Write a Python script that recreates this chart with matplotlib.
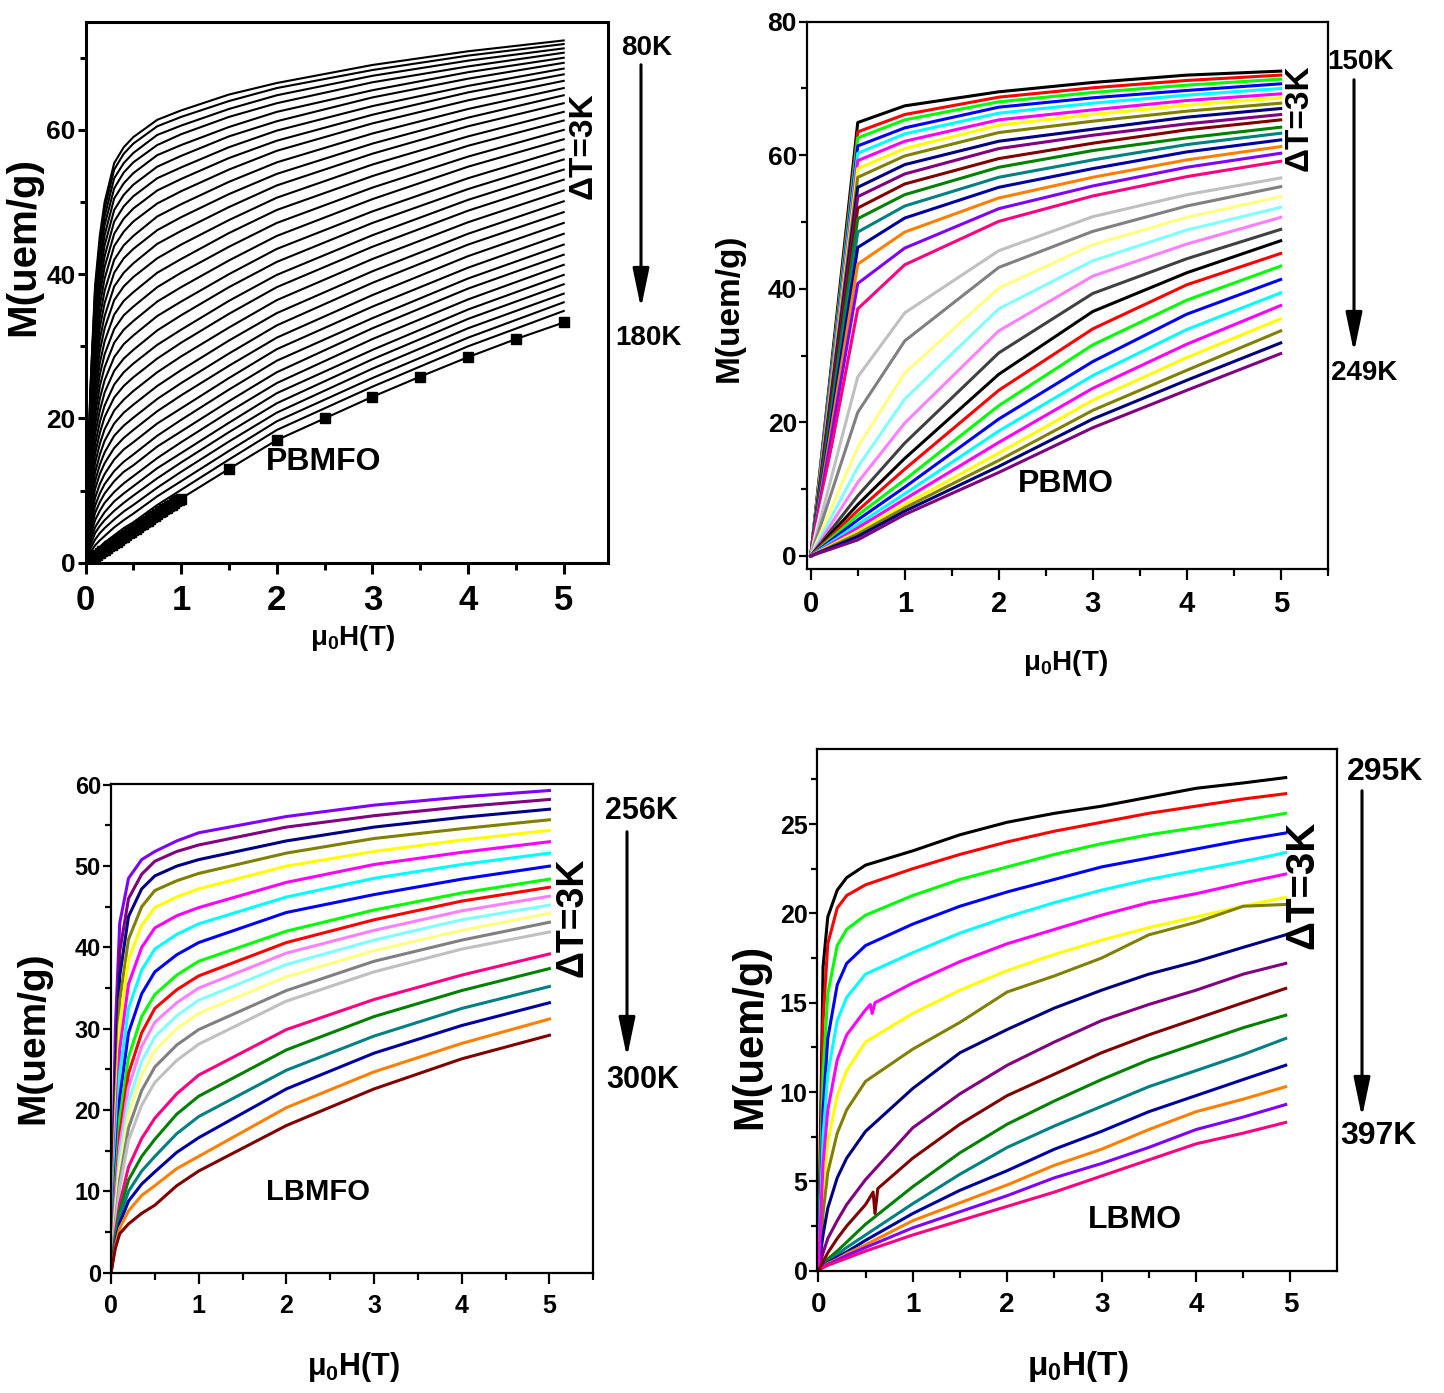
import matplotlib
matplotlib.use('Agg')
import matplotlib.pyplot as plt
from matplotlib.ticker import MultipleLocator
from matplotlib.patches import FancyArrowPatch

plt.rcParams['font.family'] = ['Liberation Sans', 'DejaVu Sans']
plt.rcParams['font.weight'] = 'bold'
plt.rcParams['mathtext.fontset'] = 'custom'
plt.rcParams['mathtext.rm'] = 'Liberation Sans:bold'
plt.rcParams['mathtext.bf'] = 'Liberation Sans:bold'
plt.rcParams['mathtext.it'] = 'Liberation Sans:bold'

# ---------------- data ----------------
# PBMFO (80K -> 180K), black curves, field grid in T
pbmfo_H = [0, 0.05, 0.1, 0.15, 0.2, 0.3, 0.4, 0.5, 0.75, 1, 1.5, 2, 3, 4, 5]
pbmfo_M = [
    [0, 23.9, 38.4, 45.4, 50.0, 55.4, 57.6, 59.0, 61.4, 62.7, 64.9, 66.5, 69.0, 70.9, 72.4],
    [0, 23.5, 37.7, 44.5, 49.1, 54.5, 56.7, 58.1, 60.5, 61.8, 64.0, 65.8, 68.3, 70.3, 71.9],
    [0, 22.9, 36.9, 43.6, 48.0, 53.3, 55.4, 56.8, 59.3, 60.6, 62.9, 64.8, 67.5, 69.6, 71.3],
    [0, 22.3, 35.9, 42.4, 46.8, 51.9, 54.1, 55.5, 57.9, 59.4, 61.8, 63.7, 66.6, 68.8, 70.7],
    [0, 21.7, 34.8, 41.2, 45.4, 50.5, 52.6, 54.0, 56.5, 57.9, 60.4, 62.5, 65.5, 68.0, 70.0],
    [0, 21.0, 33.7, 39.9, 44.0, 48.9, 51.0, 52.4, 54.9, 56.4, 59.1, 61.2, 64.5, 67.1, 69.3],
    [0, 20.2, 32.6, 38.5, 42.5, 47.3, 49.4, 50.8, 53.3, 54.8, 57.6, 59.9, 63.3, 66.1, 68.5],
    [0, 19.5, 31.4, 37.2, 41.0, 45.6, 47.7, 49.1, 51.6, 53.2, 56.1, 58.5, 62.1, 65.2, 67.7],
    [0, 18.7, 30.1, 35.7, 39.4, 43.9, 45.9, 47.3, 49.8, 51.5, 54.5, 57.1, 60.9, 64.1, 66.8],
    [0, 17.9, 28.7, 34.1, 37.7, 42.0, 44.0, 45.3, 48.0, 49.7, 52.8, 55.5, 59.5, 62.9, 65.8],
    [0, 17.0, 27.4, 32.6, 36.0, 40.2, 42.2, 43.5, 46.1, 47.9, 51.1, 53.9, 58.1, 61.7, 64.8],
    [0, 16.2, 26.1, 31.0, 34.2, 38.3, 40.2, 41.5, 44.2, 46.0, 49.3, 52.3, 56.7, 60.5, 63.7],
    [0, 15.3, 24.7, 29.4, 32.5, 36.4, 38.3, 39.6, 42.2, 44.1, 47.5, 50.6, 55.2, 59.1, 62.5],
    [0, 14.4, 23.3, 27.7, 30.7, 34.4, 36.3, 37.5, 40.2, 42.1, 45.7, 48.9, 53.6, 57.8, 61.3],
    [0, 13.6, 21.9, 26.1, 28.9, 32.4, 34.3, 35.5, 38.2, 40.2, 43.8, 47.1, 52.0, 56.3, 60.0],
    [0, 12.7, 20.5, 24.5, 27.1, 30.5, 32.3, 33.5, 36.2, 38.2, 41.9, 45.3, 50.4, 54.9, 58.7],
    [0, 11.8, 19.1, 22.8, 25.3, 28.5, 30.3, 31.5, 34.2, 36.2, 40.0, 43.5, 48.7, 53.3, 57.3],
    [0, 11.0, 17.8, 21.1, 23.6, 26.6, 28.3, 29.5, 32.2, 34.3, 38.2, 41.7, 47.1, 51.8, 55.9],
    [0, 10.1, 16.4, 19.5, 21.8, 24.7, 26.4, 27.6, 30.2, 32.3, 36.3, 39.9, 45.4, 50.3, 54.5],
    [0, 9.3, 15.1, 18.0, 20.2, 22.9, 24.5, 25.7, 28.3, 30.5, 34.5, 38.2, 43.8, 48.8, 53.1],
    [0, 8.5, 13.8, 16.5, 18.5, 21.1, 22.6, 23.8, 26.4, 28.6, 32.6, 36.4, 42.1, 47.2, 51.6],
    [0, 7.7, 12.5, 15.0, 16.9, 19.3, 20.8, 21.9, 24.5, 26.7, 30.8, 34.6, 40.4, 45.6, 50.1],
    [0, 7.0, 11.3, 13.6, 15.3, 17.6, 19.0, 20.1, 22.7, 24.9, 29.0, 32.9, 38.8, 44.1, 48.6],
    [0, 6.2, 10.2, 12.3, 13.8, 15.9, 17.3, 18.4, 21.0, 23.2, 27.3, 31.2, 37.1, 42.5, 47.1],
    [0, 5.5, 9.0, 10.9, 12.3, 14.3, 15.7, 16.7, 19.3, 21.4, 25.6, 29.6, 35.5, 40.9, 45.6],
    [0, 4.8, 7.9, 9.6, 10.9, 12.7, 14.0, 15.0, 17.6, 19.8, 24.0, 28.0, 33.9, 39.4, 44.1],
    [0, 4.2, 6.9, 8.4, 9.6, 11.3, 12.6, 13.5, 16.1, 18.2, 22.4, 26.4, 32.5, 38.0, 42.7],
    [0, 3.6, 5.9, 7.2, 8.3, 9.8, 11.0, 12.0, 14.5, 16.7, 20.9, 24.9, 31.0, 36.5, 41.3],
    [0, 3.0, 4.9, 6.0, 7.0, 8.5, 9.6, 10.6, 13.1, 15.2, 19.4, 23.5, 29.5, 35.1, 39.9],
    [0, 2.4, 4.1, 5.1, 5.9, 7.2, 8.3, 9.3, 11.7, 13.9, 18.1, 22.1, 28.2, 33.8, 38.6],
    [0, 1.9, 3.2, 4.1, 4.8, 6.0, 7.1, 8.0, 10.4, 12.6, 16.8, 20.8, 26.9, 32.5, 37.3],
    [0, 1.4, 2.4, 3.1, 3.7, 4.9, 5.9, 6.8, 9.2, 11.3, 15.5, 19.6, 25.6, 31.2, 36.1],
    [0, 0.9, 1.6, 2.2, 2.8, 3.8, 4.8, 5.6, 8.0, 10.1, 14.3, 18.4, 24.4, 30.0, 34.9],
]
# highest temperature curve, drawn with square symbols
pbmfo_sq_H = [0, 0.025, 0.05, 0.075, 0.1, 0.125, 0.15, 0.175, 0.2, 0.225, 0.25, 0.275,
              0.3, 0.325, 0.35, 0.375, 0.4, 0.425, 0.45, 0.475, 0.5, 0.525, 0.55, 0.575,
              0.6, 0.625, 0.65, 0.675, 0.7, 0.725, 0.75, 0.775, 0.8, 0.825, 0.85, 0.875,
              0.9, 0.925, 0.95, 0.975, 1.0, 1.5, 2.0, 2.5, 3.0, 3.5, 4.0, 4.5, 5.0]
pbmfo_sq_M = [0, 0.23, 0.45, 0.68, 0.9, 1.13, 1.35, 1.58, 1.8, 2.03, 2.25, 2.48,
              2.7, 2.93, 3.15, 3.38, 3.6, 3.83, 4.05, 4.28, 4.5, 4.73, 4.95, 5.18,
              5.4, 5.63, 5.85, 6.08, 6.3, 6.53, 6.75, 6.98, 7.2, 7.4, 7.6, 7.83,
              8.05, 8.28, 8.5, 8.7, 8.9, 13.0, 17.0, 20.0, 23.0, 25.8, 28.5, 31.0, 33.3]

# PBMO (150K -> 249K)
pbmo_H = [0, 0.5, 1, 2, 3, 4, 5]
pbmo_colors = ['#000000', '#FF0000', '#00FF00', '#0000FF', '#00FFFF', '#FF00FF',
               '#FFFF00', '#808000', '#000080', '#800080', '#800000', '#008000',
               '#008080', '#0000A0', '#FF8000', '#8000FF', '#FF0080', '#FFFFFF',
               '#C0C0C0', '#808080', '#FFFF80', '#80FFFF', '#FF80FF', '#404040',
               '#000000', '#FF0000', '#00FF00', '#0000FF', '#00FFFF', '#FF00FF',
               '#FFFF00', '#808000', '#000080', '#800080']
pbmo_M = [
    [0, 64.9, 67.4, 69.5, 70.9, 72.0, 72.6],
    [0, 63.5, 66.1, 68.7, 70.1, 71.2, 72.0],
    [0, 62.6, 65.3, 68.0, 69.4, 70.5, 71.4],
    [0, 61.4, 64.1, 67.2, 68.6, 69.7, 70.7],
    [0, 60.3, 63.2, 66.3, 67.8, 69.0, 70.0],
    [0, 59.2, 62.1, 65.3, 66.8, 68.2, 69.2],
    [0, 58.0, 61.0, 64.5, 66.1, 67.5, 68.6],
    [0, 56.7, 59.9, 63.4, 65.1, 66.6, 67.8],
    [0, 55.2, 58.6, 62.1, 63.9, 65.7, 67.0],
    [0, 53.8, 57.2, 61.0, 63.0, 64.7, 66.1],
    [0, 52.1, 55.7, 59.5, 61.8, 63.8, 65.3],
    [0, 50.5, 54.1, 58.2, 60.7, 62.6, 64.2],
    [0, 48.5, 52.4, 56.7, 59.3, 61.6, 63.3],
    [0, 46.2, 50.6, 55.2, 58.0, 60.5, 62.3],
    [0, 43.7, 48.5, 53.6, 56.7, 59.3, 61.3],
    [0, 40.8, 46.1, 52.0, 55.4, 58.2, 60.3],
    [0, 37.0, 43.6, 50.1, 53.9, 56.8, 59.1],
    [0, 32.0, 40.0, 48.0, 52.4, 55.5, 57.9],
    [0, 26.8, 36.4, 45.7, 50.8, 54.1, 56.6],
    [0, 21.5, 32.2, 43.2, 48.6, 52.4, 55.3],
    [0, 16.3, 27.4, 40.1, 46.6, 50.7, 53.8],
    [0, 13.3, 23.5, 37.0, 44.2, 48.8, 52.2],
    [0, 11.0, 19.9, 33.7, 41.9, 46.7, 50.7],
    [0, 9.0, 16.9, 30.4, 39.3, 44.5, 48.9],
    [0, 7.7, 14.6, 27.2, 36.6, 42.4, 47.2],
    [0, 6.8, 13.0, 24.8, 34.0, 40.6, 45.3],
    [0, 6.1, 11.4, 22.5, 31.6, 38.3, 43.4],
    [0, 5.4, 10.3, 20.5, 29.1, 36.2, 41.4],
    [0, 4.7, 9.3, 18.7, 27.0, 33.9, 39.4],
    [0, 4.2, 8.5, 17.0, 25.1, 31.7, 37.5],
    [0, 3.7, 7.7, 15.4, 23.3, 29.7, 35.5],
    [0, 3.3, 7.2, 14.3, 21.8, 27.8, 33.7],
    [0, 2.9, 6.7, 13.4, 20.5, 26.3, 31.9],
    [0, 2.4, 6.2, 12.5, 19.2, 24.8, 30.3],
]

# LBMFO (256K -> 300K)
lbmfo_H = [0, 0.05, 0.1, 0.2, 0.35, 0.5, 0.75, 1, 2, 3, 4, 5]
lbmfo_colors = ['#8000FF', '#800080', '#000080', '#808000', '#FFFF00', '#FF00FF',
                '#00FFFF', '#0000FF', '#00FF00', '#FF0000', '#FF80FF', '#80FFFF',
                '#FFFF80', '#808080', '#C0C0C0', '#FF0080', '#008000', '#008080',
                '#0000A0', '#FF8000', '#800000']
lbmfo_M = [
    [0, 30.0, 43.0, 48.5, 50.8, 51.8, 53.1, 54.1, 56.1, 57.5, 58.5, 59.3],
    [0, 26.0, 39.5, 46.0, 49.0, 50.6, 51.8, 52.6, 54.8, 56.2, 57.3, 58.2],
    [0, 23.0, 36.5, 43.8, 47.2, 48.8, 50.0, 50.8, 53.1, 54.8, 56.0, 57.0],
    [0, 20.0, 33.5, 41.0, 45.0, 47.0, 48.2, 49.1, 51.6, 53.4, 54.6, 55.7],
    [0, 18.0, 30.5, 38.5, 42.7, 44.9, 46.2, 47.2, 50.0, 51.8, 53.2, 54.4],
    [0, 16.0, 27.5, 35.5, 40.0, 42.4, 43.9, 44.9, 48.0, 50.2, 51.7, 53.0],
    [0, 14.0, 24.5, 32.5, 37.2, 39.8, 41.6, 42.9, 46.2, 48.5, 50.2, 51.6],
    [0, 12.0, 21.5, 29.5, 34.3, 37.0, 39.1, 40.6, 44.3, 46.5, 48.4, 50.0],
    [0, 10.5, 19.0, 26.5, 31.5, 34.2, 36.6, 38.3, 42.0, 44.6, 46.7, 48.4],
    [0, 9.5, 17.0, 24.5, 29.5, 32.5, 34.8, 36.5, 40.6, 43.4, 45.7, 47.4],
    [0, 8.5, 15.5, 22.8, 27.8, 30.8, 33.2, 35.0, 39.3, 42.1, 44.5, 46.3],
    [0, 7.5, 14.0, 21.0, 26.0, 29.0, 31.6, 33.5, 37.9, 40.9, 43.4, 45.2],
    [0, 7.0, 12.8, 19.5, 24.3, 27.3, 30.0, 31.9, 36.4, 39.6, 42.1, 44.2],
    [0, 6.3, 11.5, 17.8, 22.4, 25.3, 28.0, 29.9, 34.7, 38.3, 40.9, 43.1],
    [0, 5.8, 10.5, 16.3, 20.6, 23.4, 26.1, 28.1, 33.4, 37.0, 39.8, 41.9],
    [0, 4.8, 8.5, 13.0, 16.5, 19.0, 22.0, 24.3, 29.9, 33.6, 36.6, 39.2],
    [0, 4.4, 7.6, 11.4, 14.3, 16.4, 19.5, 21.7, 27.4, 31.5, 34.7, 37.4],
    [0, 4.0, 6.9, 10.0, 12.5, 14.3, 17.1, 19.2, 24.9, 29.1, 32.5, 35.2],
    [0, 3.6, 6.1, 8.8, 10.9, 12.4, 14.8, 16.6, 22.6, 27.0, 30.4, 33.2],
    [0, 3.3, 5.5, 7.6, 9.5, 10.7, 12.8, 14.3, 20.3, 24.7, 28.2, 31.2],
    [0, 3.0, 4.8, 6.0, 7.3, 8.3, 10.7, 12.5, 18.1, 22.6, 26.3, 29.2],
]

# LBMO (295K -> 397K)
lbmo_H = [0, 0.05, 0.1, 0.2, 0.3, 0.5, 1, 1.5, 2, 2.5, 3, 3.5, 4, 4.5, 4.95]
lbmo_colors = ['#000000', '#FF0000', '#00FF00', '#0000FF', '#00FFFF', '#FF00FF',
               '#FFFF00', '#808000', '#000080', '#800080', '#800000', '#008000',
               '#008080', '#0000A0', '#FF8000', '#8000FF', '#FF0080']
lbmo_M = [
    [0, 17.0, 19.8, 21.3, 22.0, 22.7, 23.5, 24.4, 25.1, 25.6, 26.0, 26.5, 27.0, 27.3, 27.6],
    [0, 14.0, 18.3, 20.3, 21.0, 21.6, 22.5, 23.3, 24.0, 24.6, 25.1, 25.6, 26.0, 26.4, 26.7],
    [0, 11.0, 15.5, 18.2, 19.1, 19.9, 21.0, 21.9, 22.6, 23.3, 23.9, 24.4, 24.8, 25.2, 25.6],
    [0, 9.0, 13.0, 16.0, 17.2, 18.2, 19.4, 20.4, 21.2, 21.9, 22.6, 23.1, 23.6, 24.1, 24.5],
    [0, 7.5, 11.0, 14.0, 15.3, 16.6, 17.8, 18.9, 19.8, 20.6, 21.3, 21.9, 22.4, 22.9, 23.4],
    None,
    [0, 4.5, 7.2, 9.8, 11.2, 12.8, 14.4, 15.7, 16.8, 17.7, 18.5, 19.2, 19.8, 20.4, 20.9],
    [0, 3.2, 5.5, 7.7, 9.0, 10.6, 12.4, 13.9, 15.6, 16.5, 17.5, 18.8, 19.5, 20.4, 20.5],
    [0, 2.0, 3.5, 5.2, 6.3, 7.8, 10.2, 12.2, 13.5, 14.7, 15.7, 16.6, 17.3, 18.1, 18.8],
    [0, 1.0, 1.8, 2.8, 3.7, 5.1, 8.0, 9.9, 11.5, 12.8, 14.0, 14.9, 15.7, 16.6, 17.2],
    None,
    [0, 0.35, 0.65, 1.1, 1.6, 2.6, 4.7, 6.6, 8.2, 9.5, 10.7, 11.8, 12.7, 13.6, 14.3],
    [0, 0.3, 0.5, 0.9, 1.3, 2.0, 3.75, 5.4, 6.9, 8.1, 9.2, 10.3, 11.2, 12.1, 13.0],
    [0, 0.25, 0.45, 0.75, 1.05, 1.7, 3.2, 4.5, 5.6, 6.8, 7.8, 8.9, 9.8, 10.7, 11.5],
    [0, 0.22, 0.4, 0.65, 0.95, 1.45, 2.8, 3.8, 4.8, 5.9, 6.8, 7.9, 8.9, 9.6, 10.3],
    [0, 0.2, 0.35, 0.6, 0.85, 1.3, 2.4, 3.3, 4.2, 5.2, 6.0, 6.9, 7.9, 8.6, 9.3],
    [0, 0.18, 0.3, 0.5, 0.7, 1.1, 2.0, 2.8, 3.6, 4.4, 5.3, 6.2, 7.1, 7.7, 8.3],
]
# two LBMO curves with measurement glitches near 0.6 T
lbmo_magenta_H = [0, 0.05, 0.1, 0.2, 0.3, 0.5, 0.55, 0.57, 0.6, 1, 1.5, 2, 2.5, 3, 3.5, 4, 4.5, 4.95]
lbmo_magenta_M = [0, 6.0, 9.0, 11.8, 13.2, 14.6, 14.9, 14.4, 15.0, 16.1, 17.3, 18.3, 19.1, 19.9, 20.6, 21.1, 21.7, 22.2]
lbmo_wine_H = [0, 0.1, 0.2, 0.3, 0.5, 0.58, 0.6, 0.63, 1, 1.5, 2, 2.5, 3, 3.5, 4, 4.5, 4.95]
lbmo_wine_M = [0, 1.0, 1.8, 2.5, 3.7, 4.4, 3.2, 4.6, 6.3, 8.2, 9.8, 11.0, 12.2, 13.2, 14.1, 15.0, 15.8]

# ---------------- figure ----------------
W, H = 1444, 1393
fig = plt.figure(figsize=(W / 100, H / 100), dpi=100)


def fx(px):
    return px / W


def fy(py):
    return 1 - py / H


def make_axes(left, top, right, bottom):
    return fig.add_axes([fx(left), fy(bottom), fx(right) - fx(left), fy(top) - fy(bottom)])


def style(ax, xlim, ylim, ymaj, ymin, spw, xsize, ysize):
    ax.set_xlim(*xlim)
    ax.set_ylim(*ylim)
    ax.xaxis.set_major_locator(MultipleLocator(1))
    ax.xaxis.set_minor_locator(MultipleLocator(0.5))
    ax.yaxis.set_major_locator(MultipleLocator(ymaj))
    ax.yaxis.set_minor_locator(MultipleLocator(ymin))
    for s in ax.spines.values():
        s.set_linewidth(spw)
    ax.tick_params(which='both', direction='out', top=False, right=False, width=spw)
    ax.tick_params(axis='x', which='major', length=8, labelsize=xsize, pad=7)
    ax.tick_params(axis='x', which='minor', length=5)
    ax.tick_params(axis='y', which='major', length=6, labelsize=ysize, pad=1)
    ax.tick_params(axis='y', which='minor', length=4)


def arrow(x, y0, y1):
    fig.add_artist(FancyArrowPatch((fx(x), fy(y0)), (fx(x), fy(y1)),
                                   transform=fig.transFigure,
                                   arrowstyle='-|>,head_length=1.2,head_width=0.25',
                                   mutation_scale=20, lw=2.2, color='k'))


def label(x, y, s, size, rot=0):
    fig.text(fx(x), fy(y), s, ha='center', va='center', fontsize=size,
             fontweight='bold', rotation=rot)


xlab = 'μ$_{\\mathbf{0}}$H(T)'

# panel 1: PBMFO
ax1 = make_axes(85.5, 21.7, 607.7, 562.7)
for row in pbmfo_M:
    ax1.plot(pbmfo_H, row, color='k', lw=1.5)
ax1.plot(pbmfo_sq_H, pbmfo_sq_M, color='k', lw=1.5, marker='s', ms=7)
style(ax1, (0, 5.46), (0, 75), 20, 10, 2.2, 25, 19)
label(647, 48, '80K', 20)
arrow(641, 62, 311)
label(648, 338, '180K', 20)
label(583, 146, 'ΔT=3K', 24, 90)
label(324, 462, 'PBMFO', 23)
label(23, 246, 'M(uem/g)', 29, 90)
label(352, 638, xlab, 20)

# panel 2: PBMO
ax2 = make_axes(806.7, 21.7, 1327.7, 569.3)
for row, c in zip(pbmo_M, pbmo_colors):
    ax2.plot(pbmo_H, row, color=c, lw=2.2)
style(ax2, (-0.043, 5.5), (-2, 80), 20, 10, 1.6, 21, 19)
label(1360, 62, '150K', 20)
arrow(1354, 77, 355)
label(1364, 373, '249K', 20)
label(1299, 118, 'ΔT=3K', 24, 90)
label(1066, 484, 'PBMO', 23)
label(729, 308, 'M(uem/g)', 24, 90)
label(1065, 663, xlab, 20)

# panel 3: LBMFO
ax3 = make_axes(110.7, 784, 593.3, 1272.7)
for row, c in zip(lbmfo_M, lbmfo_colors):
    ax3.plot(lbmfo_H, row, color=c, lw=2.2)
style(ax3, (-0.003, 5.5), (0, 60.1), 10, 5, 1.6, 18, 17)
label(641, 811, '256K', 22)
arrow(627, 829, 1060)
label(643, 1080, '300K', 22)
label(573, 917, 'ΔT=3K', 27, 90)
label(318, 1192, 'LBMFO', 21)
label(33, 1038, 'M(uem/g)', 28, 90)
label(354, 1367, xlab, 22)

# panel 4: LBMO
ax4 = make_axes(817.3, 749, 1336.7, 1270.7)
for row, c in zip(lbmo_M, lbmo_colors):
    if row is None:
        continue
    ax4.plot(lbmo_H, row, color=c, lw=2.2)
ax4.plot(lbmo_magenta_H, lbmo_magenta_M, color='#FF00FF', lw=2.2)
ax4.plot(lbmo_wine_H, lbmo_wine_M, color='#800000', lw=2.2)
style(ax4, (-0.011, 5.49), (0, 29.2), 5, 2.5, 1.6, 20, 18)
label(1385, 772, '295K', 23)
arrow(1362, 788, 1120)
label(1378, 1136, '397K', 23)
label(1302, 885, 'ΔT=3K', 29, 90)
label(1135, 1220, 'LBMO', 23)
label(750, 1036, 'M(uem/g)', 30, 90)
label(1078, 1367, xlab, 24)

fig.savefig('out.png', dpi=100)
